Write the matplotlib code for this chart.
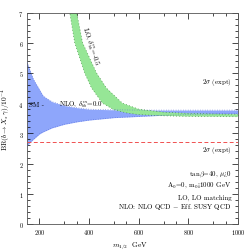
import numpy as np
import matplotlib
matplotlib.use("Agg")
import matplotlib.pyplot as plt
from matplotlib.ticker import FixedLocator

plt.rcParams['font.family'] = ['cmr10', 'DejaVu Serif']
plt.rcParams['mathtext.fontset'] = 'cm'
plt.rcParams['axes.unicode_minus'] = False
plt.rcParams['axes.formatter.use_mathtext'] = True

# Blue band: NLO, delta_bb^m = 0.0
blue_m = [150, 175, 200, 215, 250, 300, 350, 400, 500, 600, 700, 800, 900, 1000]
blue_hi = [5.35, 4.8, 4.45, 4.24, 4.05, 3.92, 3.85, 3.80, 3.78, 3.77, 3.77, 3.77, 3.77, 3.77]
blue_lo = [2.6, 2.8, 2.98, 3.05, 3.18, 3.3, 3.38, 3.44, 3.52, 3.56, 3.6, 3.62, 3.64, 3.65]

# Green band: LO, delta_bb^m = -0.5
green_lo_m = [312, 322, 342, 382, 410, 454, 500, 550, 600, 700, 800, 1000]
green_lo = [7.5, 7.0, 6.0, 5.0, 4.5, 4.0, 3.78, 3.68, 3.62, 3.58, 3.56, 3.55]
green_hi_m = [340, 350, 374, 430, 470, 534, 600, 700, 800, 1000]
green_hi = [7.5, 7.0, 6.0, 5.0, 4.5, 4.0, 3.8, 3.7, 3.66, 3.63]

expt_lower = 2.70

x_major = [200, 400, 600, 800, 1000]
x_minor = [300, 350, 500, 550, 700, 750, 900, 950]

fig = plt.figure(figsize=(2.51, 2.51), dpi=100)
ax = fig.add_axes([27/251, 1-225/251, 211/251, 211.5/251])

ax.fill_between(blue_m, blue_lo, blue_hi, color='#8ea6fb', lw=0, zorder=1)
ax.fill(np.concatenate([green_lo_m, green_hi_m[::-1]]),
        np.concatenate([green_lo, green_hi[::-1]]), color='#96e696', lw=0, zorder=2)
for mm, yy in [(blue_m, blue_hi), (blue_m, blue_lo)]:
    ax.plot(mm, yy, color='#5a6ed8', lw=0.5, ls=(0, (1, 2.5)), zorder=3)
for mm, yy in [(green_lo_m, green_lo), (green_hi_m, green_hi)]:
    ax.plot(mm, yy, color='#2c7a2c', lw=0.5, ls=(0, (1, 3.5)), zorder=3)

ax.axhline(expt_lower, color='#f05050', lw=0.7, ls=(0, (4, 2.5)), zorder=4)

ax.set_xlim(150, 1000)
ax.set_ylim(0, 7)
ax.xaxis.set_major_locator(FixedLocator(x_major))
ax.xaxis.set_minor_locator(FixedLocator(x_minor))
ax.yaxis.set_major_locator(FixedLocator([0, 1, 2, 3, 4, 5, 6, 7]))
ax.yaxis.set_minor_locator(FixedLocator(np.arange(0, 7.01, 0.2)))
ax.tick_params(which='both', direction='in', top=True, right=True, labelsize=4.5,
               width=0.5, pad=2.5)
ax.tick_params(which='major', length=4)
ax.tick_params(which='minor', length=2)
for s in ax.spines.values():
    s.set_linewidth(0.6)
    s.set_color('#555555')

ax.set_xlabel(r'$m_{1/2}$  GeV', fontsize=5.3)
ax.set_ylabel(r'BR$(b\rightarrow X_s\,\gamma)/10^{-4}$', fontsize=5.3)
ax.xaxis.set_label_coords(0.49, -0.072)
ax.yaxis.set_label_coords(-0.07, 0.5)

fs = 5.0
ax.text(0.97, 4.72, r'$2\sigma$ (expt)', transform=ax.get_yaxis_transform(),
        ha='right', va='center', fontsize=fs)
ax.text(0.97, 2.48, r'$2\sigma$ (expt)', transform=ax.get_yaxis_transform(),
        ha='right', va='center', fontsize=fs)
ax.text(158, 3.97, 'SM -', fontsize=fs, va='center', ha='left')
ax.text(280, 3.97, r'NLO, $\delta^m_{bb}$=0.0', fontsize=fs, va='center', ha='left')
ax.text(407, 5.9, r'LO, $\delta^m_{bb}$=-0.5', fontsize=fs, va='center', ha='center',
        rotation=-72)
ax.text(0.97, 1.65, r'tan$\beta$=40, $\mu$>0', transform=ax.get_yaxis_transform(),
        ha='right', va='center', fontsize=fs)
ax.text(0.97, 1.32, r'A$_0$=0, m$_0$<1000 GeV', transform=ax.get_yaxis_transform(),
        ha='right', va='center', fontsize=fs)
ax.text(0.97, 0.9, 'LO, LO matching', transform=ax.get_yaxis_transform(),
        ha='right', va='center', fontsize=fs)
ax.text(0.97, 0.6, r'NLO: NLO QCD $-$ Eff. SUSY QCD', transform=ax.get_yaxis_transform(),
        ha='right', va='center', fontsize=fs)

fig.savefig('out.png', dpi=100)
